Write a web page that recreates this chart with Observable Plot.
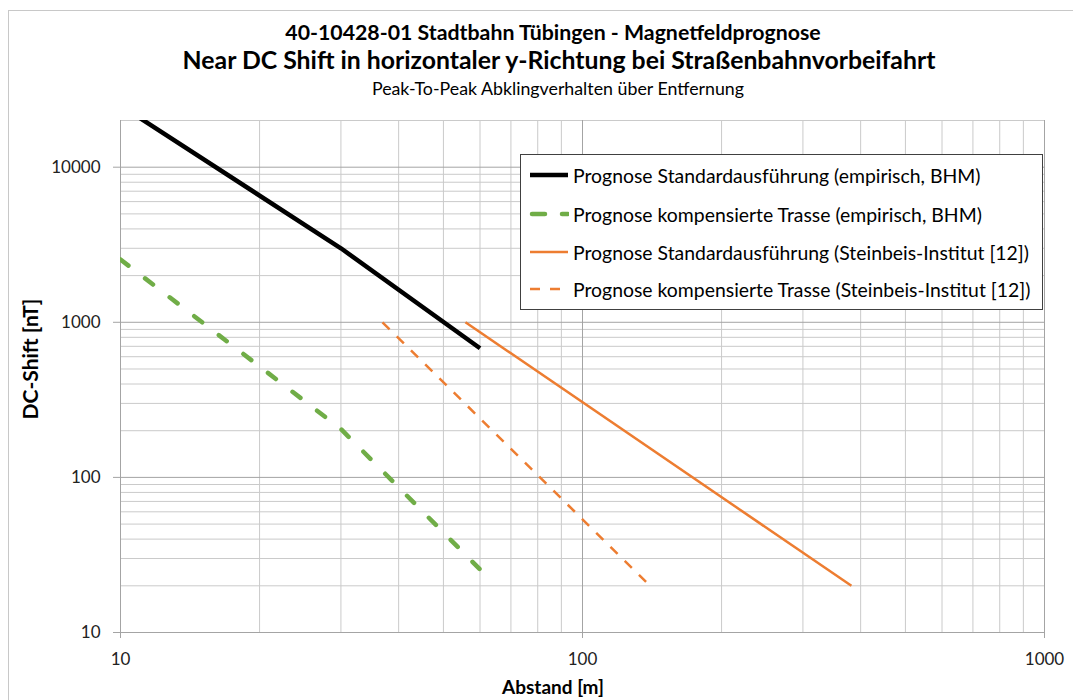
<!DOCTYPE html>
<html>
<head>
<meta charset="utf-8">
<script src="https://cdn.jsdelivr.net/npm/d3@7"></script>
<script src="https://cdn.jsdelivr.net/npm/@observablehq/plot@0.6"></script>
<style>
  html, body { margin: 0; padding: 0; background: #fff; }
  body { font-family: Lato, "Open Sans", sans-serif; }
  #wrap { position: relative; width: 1073px; height: 700px; overflow: hidden; }
  #border { position: absolute; left: 8px; top: 10px; width: 1090px; height: 720px; border: 1px solid #c8c8c8; box-sizing: border-box; }
  .t { position: absolute; left: 0; width: 1106px; text-align: center; color: #000; white-space: nowrap; line-height: 1.2; }
  #t1 { top: 20px; font-size: 21.3px; font-weight: bold; }
  #t2 { top: 45px; left: 6px; font-size: 24.8px; font-weight: bold; }
  #t3 { top: 78px; left: 5px; font-size: 17.8px; }
  #xl { position: absolute; top: 676px; left: 0; width: 1106px; text-align: center; font-size: 19px; font-weight: bold; line-height: 1.2; }
  #yl { position: absolute; left: 30px; top: 359px; transform: translate(-50%, -50%) rotate(-90deg); font-size: 21px; font-weight: bold; white-space: nowrap; line-height: 1.2; }
  #chart { position: absolute; left: 0; top: 0; }
  #legend { position: absolute; left: 520px; top: 154px; width: 523px; height: 156px; box-sizing: border-box; border: 1px solid #404040; background: #fff; }
  .li { position: absolute; left: 8px; height: 26px; display: flex; align-items: center; font-size: 19.4px; white-space: nowrap; color: #000; }
  .li svg { margin-right: 4px; flex: none; }
</style>
</head>
<body>
<div id="wrap">
  <div id="border"></div>
  <div id="chart"></div>
  <div class="t" id="t1">40-10428-01 Stadtbahn Tübingen - Magnetfeldprognose</div>
  <div class="t" id="t2">Near DC Shift in horizontaler y-Richtung bei Straßenbahnvorbeifahrt</div>
  <div class="t" id="t3">Peak-To-Peak Abklingverhalten über Entfernung</div>
  <div id="xl">Abstand [m]</div>
  <div id="yl">DC-Shift [nT]</div>
  <div id="legend"></div>
</div>
<script>
// Series data
const seriesNames = [
  "Prognose Standardausführung (empirisch, BHM)",
  "Prognose kompensierte Trasse (empirisch, BHM)",
  "Prognose Standardausführung (Steinbeis-Institut [12])",
  "Prognose kompensierte Trasse (Steinbeis-Institut [12])"
];
const stdEmpX = [10, 30, 60];
const stdEmpY = [25000, 3000, 680];
const kompEmpX = [10, 30, 60];
const kompEmpY = [2540, 205, 25.5];
const stdSteinX = [55.8, 382];
const stdSteinY = [1000, 20];
const kompSteinX = [36.9, 140];
const kompSteinY = [1000, 20];

// Axis ticks
const xMajor = [10, 100, 1000];
const xMinor = [20, 30, 40, 50, 60, 70, 80, 90, 200, 300, 400, 500, 600, 700, 800, 900];
const yMajor = [10, 100, 1000, 10000];
const yMinor = [20, 30, 40, 50, 60, 70, 80, 90, 200, 300, 400, 500, 600, 700, 800, 900,
                2000, 3000, 4000, 5000, 6000, 7000, 8000, 9000, 20000];

const styles = [
  {stroke: "#000000", strokeWidth: 4.5, dash: null, cap: "butt"},
  {stroke: "#70AD47", strokeWidth: 4.5, dash: "10,21", cap: "round"},
  {stroke: "#ED7D31", strokeWidth: 2.5, dash: null, cap: "butt"},
  {stroke: "#ED7D31", strokeWidth: 2.5, dash: "10,10", cap: "butt"}
];

function toRows(xs, ys, s) { return xs.map((x, i) => ({x, y: ys[i], s})); }
const rows = [
  toRows(stdEmpX, stdEmpY, seriesNames[0]),
  toRows(kompEmpX, kompEmpY, seriesNames[1]),
  toRows(stdSteinX, stdSteinY, seriesNames[2]),
  toRows(kompSteinX, kompSteinY, seriesNames[3])
];

const chart = Plot.plot({
  width: 1073,
  height: 700,
  marginLeft: 120,
  marginRight: 29,
  marginTop: 120,
  marginBottom: 68,
  style: {fontFamily: "Lato, sans-serif", fontSize: "17px", color: "#222", background: "transparent"},
  x: {type: "log", domain: [10, 1000]},
  y: {type: "log", domain: [10, 20000]},
  marks: [
    Plot.ruleX(xMinor, {stroke: "#cacaca", strokeWidth: 1, strokeOpacity: 1}),
    Plot.ruleY(yMinor, {stroke: "#cacaca", strokeWidth: 1, strokeOpacity: 1}),
    Plot.ruleX(xMajor, {stroke: "#a4a4a4", strokeWidth: 1, strokeOpacity: 1}),
    Plot.ruleY(yMajor, {stroke: "#a4a4a4", strokeWidth: 1, strokeOpacity: 1}),
    Plot.axisX({ticks: xMajor, tickFormat: d => String(d), tickSize: 6, tickPadding: 14, stroke: "#a4a4a4", label: null, fill: "#222"}),
    Plot.axisY({ticks: yMajor, tickFormat: d => String(d), tickSize: 7, tickPadding: 13, stroke: "#a4a4a4", label: null, fill: "#222"}),
    ...rows.map((r, i) => Plot.line(r, {
      x: "x", y: "y", clip: true,
      stroke: styles[i].stroke, strokeWidth: styles[i].strokeWidth,
      strokeDasharray: styles[i].dash, strokeLinecap: styles[i].cap, strokeLinejoin: "round"
    }))
  ]
});
document.getElementById("chart").appendChild(chart);

// Legend
const legend = document.getElementById("legend");
const legendTops = [7, 46, 84, 121];
seriesNames.forEach((name, i) => {
  const st = styles[i];
  const div = document.createElement("div");
  div.className = "li";
  div.style.top = legendTops[i] + "px";
  const ns = "http://www.w3.org/2000/svg";
  const svg = document.createElementNS(ns, "svg");
  svg.setAttribute("width", 40); svg.setAttribute("height", 10);
  const ln = document.createElementNS(ns, "line");
  ln.setAttribute("x1", i === 1 ? 3 : 1); ln.setAttribute("x2", 39);
  ln.setAttribute("y1", 5); ln.setAttribute("y2", 5);
  ln.setAttribute("stroke", st.stroke);
  ln.setAttribute("stroke-width", st.strokeWidth);
  if (i === 1) ln.setAttribute("stroke-dasharray", "13,17");
  if (i === 3) ln.setAttribute("stroke-dasharray", "10,10");
  ln.setAttribute("stroke-linecap", st.cap);
  svg.appendChild(ln);
  div.appendChild(svg);
  const span = document.createElement("span");
  span.textContent = name;
  div.appendChild(span);
  legend.appendChild(div);
});
</script>
</body>
</html>
